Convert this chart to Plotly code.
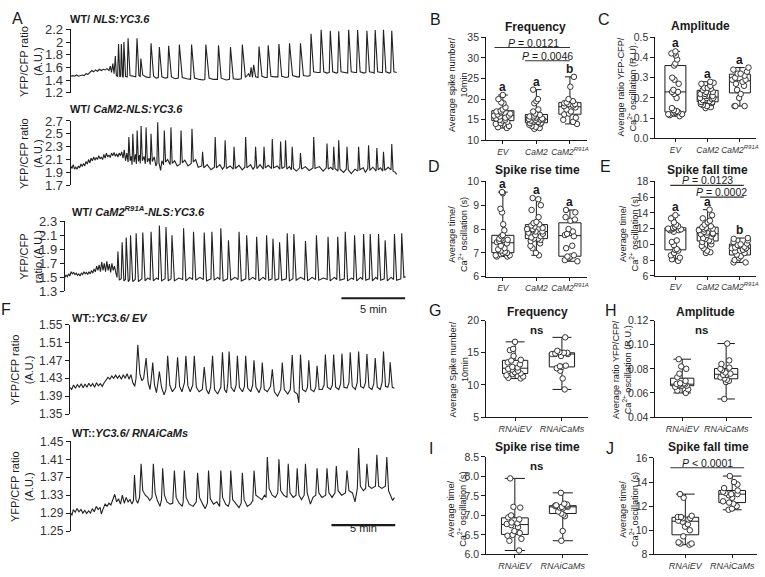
import numpy as np
import plotly.graph_objects as go

W, H = 765, 577
INK = "#1a1a1a"
FONT = "Liberation Sans, Arial, sans-serif"
PX_PER_MIN = 12.8

# ---------------- Ca2+ traces: (time [min], YFP/CFP ratio) ----------------
trace_nls = [
    (0,1.46),(0.15,1.47),(0.3,1.46),(0.45,1.48),(0.6,1.46),(0.75,1.47),(0.9,1.48),(1.05,1.47),(1.2,1.5),(1.35,1.49),
    (1.5,1.52),(1.65,1.55),(1.8,1.53),(1.95,1.56),(2.1,1.54),(2.25,1.57),(2.4,1.55),(2.55,1.57),(2.7,1.56),(2.85,1.58),
    (3.0,1.55),(3.1,1.62),(3.2,1.52),(3.3,1.66),(3.4,1.5),(3.5,1.78),(3.58,1.47),
    (3.68,1.46),(3.75,1.97),(3.85,1.45),(3.92,1.46),(3.97,1.97),(4.07,1.45),(4.12,1.45),(4.17,2.0),(4.3,1.46),
    (4.43,1.45),(4.5,2.06),(4.65,1.47),(4.85,1.46),(5.1,1.45),(5.2,2.06),(5.35,1.47),
    (5.45,1.46),(5.5,1.74),(5.65,1.48),(5.9,1.45),(6.1,1.44),(6.22,1.44),(6.3,1.98),(6.5,1.46),(6.7,1.43),
    (6.87,1.44),(6.95,1.92),(7.15,1.45),(7.4,1.43),(7.6,1.44),(7.68,1.94),(7.9,1.45),(8.2,1.42),
    (8.44,1.43),(8.52,1.96),(8.75,1.44),(9.1,1.42),(9.4,1.41),(9.48,1.96),(9.7,1.43),(10.1,1.41),(10.4,1.40),
    (10.52,1.41),(10.6,1.96),(10.85,1.43),(11.2,1.41),(11.51,1.41),(11.59,1.95),(11.8,1.43),(12.2,1.40),
    (12.45,1.41),(12.53,1.92),(12.75,1.42),(13.1,1.41),
    (13.38,1.42),(13.46,1.96),(13.7,1.44),(13.95,1.5),(14.05,1.45),(14.15,1.6),(14.25,1.44),(14.35,1.64),(14.5,1.45),
    (14.69,1.44),(14.77,1.93),(15.0,1.46),(15.25,1.44),(15.41,1.44),(15.49,1.95),(15.7,1.46),(16.0,1.45),
    (16.25,1.45),(16.33,1.97),(16.55,1.46),(16.9,1.44),(17.08,1.45),(17.16,1.98),(17.4,1.47),(17.75,1.45),
    (17.94,1.45),(18.02,1.98),(18.25,1.47),(18.6,1.46),(18.77,1.47),(18.85,2.13),(19.05,1.53),(19.35,1.52),
    (19.56,1.52),(19.64,2.2),(19.85,1.53),(20.1,1.51),(20.28,1.52),(20.36,2.18),(20.55,1.53),(20.85,1.51),
    (20.94,1.52),(21.02,2.17),(21.2,1.53),(21.5,1.52),(21.72,1.51),(21.8,2.2),(22.0,1.53),(22.3,1.52),
    (22.42,1.52),(22.5,2.19),(22.7,1.53),(23.0,1.51),(23.15,1.52),(23.23,2.18),(23.43,1.53),(23.7,1.52),
    (23.8,1.51),(23.88,2.19),(24.07,1.53),(24.35,1.52),(24.45,1.52),(24.53,2.2),(24.72,1.53),(25.0,1.51),
    (25.1,1.52),(25.18,2.18),(25.35,1.53),(25.57,1.52),
]

trace_cam2 = [
    (0,2.0),(0.1,1.96),(0.2,2.02),(0.3,1.95),(0.4,1.98),(0.5,1.95),(0.6,2.0),(0.7,1.97),(0.8,2.03),(0.9,1.99),
    (1.0,2.04),(1.1,2.0),(1.2,2.07),(1.3,2.03),(1.4,2.1),(1.5,2.05),(1.6,2.12),(1.7,2.08),(1.8,2.14),(1.9,2.09),
    (2.0,2.13),(2.1,2.1),(2.2,2.16),(2.3,2.11),(2.4,2.14),(2.5,2.1),(2.6,2.18),(2.7,2.12),(2.8,2.2),(2.9,2.14),
    (3.0,2.17),(3.1,2.13),(3.2,2.2),(3.3,2.16),(3.4,2.21),(3.5,2.15),(3.6,2.19),(3.7,2.14),(3.8,2.2),(3.9,2.16),
    (4.0,2.22),(4.1,2.12),(4.2,2.25),(4.3,2.08),(4.4,2.2),
    (4.5,2.06),(4.56,2.45),(4.66,2.08),(4.75,2.15),(4.81,2.02),(4.87,2.5),(4.97,2.06),(5.08,2.18),(5.15,2.03),
    (5.21,2.55),(5.31,2.07),(5.4,2.17),(5.46,2.04),(5.52,2.62),(5.62,2.08),(5.75,2.15),(5.85,2.03),(5.91,2.6),
    (6.01,2.06),(6.15,2.12),(6.24,2.02),(6.3,2.5),(6.4,2.07),(6.55,2.14),(6.68,2.0),(6.76,2.04),(6.82,2.68),
    (6.92,2.05),(7.05,1.93),(7.15,2.08),(7.28,2.02),(7.34,2.55),(7.44,2.06),(7.6,2.1),(7.8,2.02),(7.86,2.6),
    (7.96,2.04),(8.15,2.08),(8.35,2.0),(8.59,2.03),(8.65,2.55),(8.75,2.05),(8.95,2.09),(9.2,2.0),(9.45,2.04),
    (9.51,2.58),(9.61,2.06),(9.8,2.1),(10.0,1.98),(10.28,2.0),(10.34,2.22),(10.44,1.97),(10.7,2.02),(11.0,1.94),
    (11.27,1.98),(11.33,2.45),(11.43,1.97),(11.7,2.02),(11.9,1.95),(12.05,1.99),(12.11,2.4),(12.21,1.96),
    (12.5,2.0),(12.75,1.95),(12.81,2.3),(12.91,1.96),(13.2,2.01),(13.45,1.94),(13.66,1.98),(13.72,2.45),
    (13.82,1.97),(14.1,2.02),(14.3,1.95),(14.44,1.99),(14.5,2.3),(14.6,1.96),(14.85,2.02),(15.1,1.95),
    (15.16,2.3),(15.26,1.97),(15.5,2.01),(15.75,1.96),(15.81,2.42),(15.91,1.97),(16.2,2.0),(16.4,1.95),
    (16.46,2.38),(16.56,1.96),(16.79,1.99),(16.85,2.4),(16.95,1.95),(17.15,1.99),(17.31,1.94),(17.37,2.3),
    (17.47,1.96),(17.7,1.92),(17.96,1.97),(18.02,2.2),(18.12,1.95),(18.4,1.99),(18.7,1.93),(19.0,1.97),
    (19.06,2.45),(19.16,1.96),(19.5,1.99),(19.8,1.92),(20.04,1.97),(20.1,2.35),(20.2,1.95),(20.4,1.98),
    (20.57,1.94),(20.63,2.3),(20.73,1.96),(20.96,1.92),(21.02,2.4),(21.12,1.95),(21.4,1.9),(21.61,1.95),
    (21.67,2.3),(21.77,1.94),(22.0,1.88),(22.3,1.95),(22.52,1.92),(22.58,2.3),(22.68,1.94),(22.95,1.97),
    (23.1,1.9),(23.3,1.96),(23.36,2.32),(23.46,1.93),(23.7,1.98),(23.95,1.92),(24.01,2.28),(24.11,1.94),
    (24.3,1.97),(24.47,1.92),(24.53,2.22),(24.63,1.93),(24.9,1.98),(25.12,1.94),(25.18,2.34),(25.28,1.92),
    (25.45,1.9),(25.57,1.87),
]

trace_r91a = [
    (0,1.5),(0.1,1.53),(0.2,1.51),(0.3,1.55),(0.4,1.52),(0.5,1.58),(0.6,1.55),(0.7,1.57),(0.8,1.54),(0.9,1.56),
    (1.0,1.53),(1.1,1.55),(1.2,1.52),(1.3,1.56),(1.4,1.54),(1.5,1.58),(1.6,1.55),(1.7,1.57),(1.8,1.54),(1.9,1.58),
    (2.0,1.55),(2.1,1.6),(2.2,1.56),(2.3,1.62),(2.4,1.58),(2.5,1.66),(2.6,1.6),(2.7,1.68),(2.8,1.58),(2.9,1.72),
    (3.0,1.6),(3.1,1.7),(3.2,1.58),(3.3,1.73),(3.4,1.6),(3.5,1.69),(3.6,1.57),(3.7,1.7),(3.8,1.6),(3.9,1.66),
    (4.0,1.57),(4.1,1.5),
    (4.17,1.87),(4.28,1.46),(4.43,1.48),(4.5,2.0),(4.64,1.45),(4.76,1.47),(4.82,2.07),(4.98,1.44),(5.1,1.47),
    (5.16,2.1),(5.33,1.44),(5.53,1.47),(5.6,2.13),(5.78,1.44),(6.05,1.48),(6.12,2.14),(6.3,1.45),(6.5,1.49),
    (6.7,1.47),(6.77,2.15),(6.95,1.45),(7.2,1.49),(7.35,1.47),(7.42,2.24),(7.6,1.45),(7.87,1.48),(7.94,2.22),
    (8.12,1.45),(8.34,1.48),(8.41,2.1),(8.6,1.45),(8.95,1.49),(9.25,1.47),(9.32,2.2),(9.5,1.45),(9.8,1.5),
    (10.03,1.47),(10.1,2.15),(10.28,1.46),(10.6,1.5),(10.87,1.47),(10.94,2.14),(11.12,1.45),(11.47,1.48),
    (11.54,2.15),(11.72,1.46),(12.0,1.5),(12.17,1.47),(12.24,2.2),(12.42,1.45),(12.77,1.48),(12.84,2.03),
    (13.02,1.46),(13.35,1.5),(13.6,1.47),(13.67,2.15),(13.85,1.45),(14.2,1.48),(14.27,2.1),(14.45,1.46),
    (14.75,1.5),(14.98,1.47),(15.05,2.08),(15.23,1.45),(15.55,1.5),(15.76,1.47),(15.83,2.1),(16.0,1.46),
    (16.26,1.48),(16.33,2.05),(16.5,1.46),(16.78,1.48),(16.85,2.0),(17.02,1.46),(17.38,1.48),(17.45,2.13),
    (17.62,1.45),(17.9,1.48),(17.97,2.12),(18.15,1.46),(18.5,1.5),(18.81,1.47),(18.88,2.02),(19.05,1.45),
    (19.4,1.5),(19.67,1.47),(19.74,2.1),(19.92,1.46),(20.3,1.49),(20.58,1.47),(20.65,2.08),(20.82,1.45),
    (21.15,1.5),(21.34,1.47),(21.41,2.08),(21.58,1.46),(21.93,1.48),(22.0,2.15),(22.18,1.45),(22.5,1.49),
    (22.66,1.47),(22.73,2.1),(22.9,1.45),(23.2,1.5),(23.37,1.47),(23.44,2.12),(23.61,1.46),(23.89,1.48),
    (23.96,2.12),(24.13,1.45),(24.4,1.5),(24.54,1.47),(24.61,2.12),(24.78,1.46),(25.06,1.48),(25.13,2.03),
    (25.3,1.45),(25.6,1.5),(25.79,1.47),(25.86,2.12),(26.03,1.46),(26.36,1.48),(26.43,2.13),(26.6,1.5),(26.74,1.51),
]

trace_rnai_ev = [
    (0,1.41),(0.15,1.405),(0.3,1.415),(0.45,1.408),(0.6,1.416),(0.75,1.41),(0.9,1.418),(1.05,1.409),(1.2,1.417),
    (1.35,1.41),(1.5,1.419),(1.65,1.412),(1.8,1.418),(1.95,1.41),(2.1,1.42),(2.25,1.413),(2.4,1.418),(2.55,1.412),
    (2.7,1.42),(2.85,1.425),(3.0,1.432),(3.15,1.428),(3.3,1.435),(3.45,1.43),(3.6,1.437),(3.75,1.43),(3.9,1.436),
    (4.05,1.428),(4.2,1.438),(4.35,1.43),(4.5,1.44),(4.65,1.428),(4.8,1.438),(4.95,1.42),(5.1,1.412),(5.2,1.43),
    (5.34,1.505),(5.5,1.44),(5.65,1.425),(5.8,1.43),(5.99,1.475),(6.15,1.42),(6.3,1.405),(6.4,1.43),(6.51,1.465),
    (6.65,1.415),(6.8,1.398),(6.92,1.42),(7.03,1.445),(7.2,1.41),(7.4,1.393),(7.55,1.405),(7.68,1.48),(7.85,1.415),
    (8.05,1.40),(8.3,1.41),(8.46,1.477),(8.62,1.412),(8.8,1.40),(9.0,1.42),(9.11,1.48),(9.27,1.413),(9.45,1.40),
    (9.65,1.415),(9.77,1.48),(9.93,1.41),(10.15,1.40),(10.4,1.405),(10.55,1.455),(10.72,1.405),(10.9,1.395),
    (11.05,1.41),(11.2,1.48),(11.36,1.405),(11.6,1.395),(11.85,1.41),(11.98,1.488),(12.14,1.405),(12.3,1.398),
    (12.4,1.42),(12.5,1.49),(12.66,1.41),(12.9,1.40),(13.05,1.415),(13.15,1.48),(13.31,1.41),(13.55,1.40),
    (13.7,1.412),(13.8,1.48),(13.96,1.408),(14.2,1.40),(14.35,1.415),(14.45,1.47),(14.61,1.41),(14.85,1.398),
    (15.0,1.41),(15.1,1.465),(15.26,1.405),(15.5,1.40),(15.75,1.412),(15.89,1.45),(16.05,1.40),(16.3,1.39),
    (16.55,1.405),(16.67,1.465),(16.83,1.405),(17.1,1.395),(17.3,1.405),(17.45,1.482),(17.61,1.40),(17.85,1.395),
    (17.97,1.375),(18.0,1.40),(18.1,1.483),(18.26,1.405),(18.5,1.40),(18.65,1.41),(18.75,1.47),(18.91,1.405),
    (19.15,1.40),(19.3,1.41),(19.4,1.458),(19.56,1.405),(19.8,1.405),(19.95,1.415),(20.05,1.483),(20.21,1.41),
    (20.45,1.405),(20.6,1.415),(20.7,1.483),(20.86,1.41),(21.1,1.405),(21.25,1.418),(21.35,1.485),(21.51,1.41),
    (21.75,1.408),(21.9,1.42),(22.0,1.488),(22.16,1.412),(22.4,1.405),(22.55,1.42),(22.66,1.49),(22.82,1.412),
    (23.05,1.408),(23.2,1.42),(23.31,1.484),(23.47,1.41),(23.7,1.405),(23.85,1.418),(23.96,1.475),(24.12,1.41),
    (24.35,1.405),(24.5,1.42),(24.61,1.49),(24.77,1.412),(24.95,1.41),(25.05,1.42),(25.13,1.466),(25.3,1.41),
    (25.47,1.408),
]

trace_rnai_cams = [
    (0,1.29),(0.1,1.285),(0.2,1.298),(0.35,1.292),(0.5,1.30),(0.65,1.293),(0.8,1.298),(0.95,1.29),(1.1,1.296),
    (1.25,1.289),(1.4,1.295),(1.55,1.29),(1.7,1.30),(1.85,1.293),(2.0,1.305),(2.15,1.298),(2.3,1.303),(2.4,1.288),
    (2.55,1.30),(2.7,1.31),(2.85,1.305),(3.0,1.312),(3.15,1.308),(3.3,1.318),(3.45,1.332),(3.6,1.315),(3.75,1.322),
    (3.9,1.31),(4.05,1.33),(4.2,1.312),(4.35,1.325),(4.5,1.315),(4.65,1.32),(4.8,1.31),(4.92,1.318),
    (5.0,1.375),(5.12,1.32),(5.25,1.312),(5.4,1.325),(5.52,1.40),(5.65,1.34),(5.85,1.33),(6.05,1.325),(6.2,1.318),
    (6.38,1.325),(6.48,1.40),(6.62,1.335),(6.8,1.318),(7.0,1.305),(7.12,1.32),(7.21,1.39),(7.35,1.33),(7.55,1.315),
    (7.8,1.31),(8.0,1.312),(8.13,1.385),(8.27,1.325),(8.5,1.312),(8.75,1.305),(8.82,1.315),(8.91,1.385),(9.05,1.325),
    (9.3,1.31),(9.6,1.305),(9.85,1.315),(9.95,1.38),(10.1,1.325),(10.35,1.31),(10.55,1.30),(10.72,1.312),
    (10.81,1.385),(10.95,1.322),(11.2,1.31),(11.45,1.315),(11.68,1.305),(11.77,1.385),(11.91,1.325),(12.15,1.31),
    (12.35,1.305),(12.47,1.315),(12.55,1.385),(12.7,1.32),(12.95,1.31),(13.2,1.302),(13.37,1.312),(13.46,1.38),
    (13.6,1.32),(13.85,1.305),(14.1,1.31),(14.28,1.318),(14.38,1.385),(14.52,1.33),(14.75,1.325),(15.0,1.32),
    (15.2,1.33),(15.32,1.325),(15.42,1.415),(15.56,1.345),(15.8,1.33),(16.05,1.325),(16.24,1.335),(16.33,1.41),
    (16.47,1.34),(16.7,1.33),(16.96,1.325),(17.06,1.40),(17.2,1.335),(17.45,1.325),(17.67,1.33),(17.76,1.39),
    (17.9,1.33),(18.1,1.32),(18.31,1.33),(18.41,1.40),(18.55,1.335),(18.8,1.31),(19.0,1.325),(19.22,1.33),
    (19.32,1.39),(19.46,1.335),(19.7,1.325),(20.0,1.33),(20.1,1.39),(20.25,1.335),(20.5,1.325),(20.73,1.335),
    (20.83,1.395),(20.97,1.34),(21.25,1.33),(21.55,1.335),(21.67,1.385),(21.82,1.34),(22.1,1.335),(22.3,1.315),
    (22.48,1.345),(22.58,1.435),(22.72,1.35),(22.95,1.34),(23.13,1.345),(23.23,1.40),(23.37,1.35),(23.6,1.345),
    (23.9,1.35),(24.01,1.42),(24.15,1.35),(24.4,1.345),(24.68,1.35),(24.79,1.415),(24.93,1.34),(25.1,1.33),
    (25.25,1.318),(25.39,1.325),
]

# ---------------- box-plot data ----------------
cats_cam = ["EV", "CaM2", "CaM2R91A"]
cat_text_cam = ["<i>EV</i>", "<i>CaM2</i>", "<i>CaM2<sup>R91A</sup></i>"]
cats_rnai = ["RNAiEV", "RNAiCaMs"]
cat_text_rnai = ["<i>RNAiEV</i>", "<i>RNAiCaMs</i>"]

freq_ev = [21, 20, 19.2, 19, 18, 17.5, 17.2, 17, 16.8, 16.5, 16.3, 16.0, 16.0, 15.8, 15.5, 15.3, 15.0, 15.0,
           14.8, 14.5, 14.2, 14.0, 13.5, 13.2, 13.0]
freq_cam2 = [22.3, 20.0, 19.5, 19.0, 17.5, 17.0, 16.5, 16.2, 16.0, 15.8, 15.6, 15.5, 15.3, 15.2, 15.1, 15.0, 15.0,
             14.8, 14.6, 14.5, 14.3, 14.2, 14.0, 13.8, 13.5, 13.3, 13.0, 12.8]
freq_r91a = [25.4, 23.0, 20.0, 19.5, 19.2, 19.0, 18.8, 18.5, 18.3, 18.0, 17.5, 17.0, 16.5, 16.3, 15.5, 15.0, 14.5, 14.0]

amp_ev = [0.43, 0.42, 0.42, 0.41, 0.39, 0.37, 0.36, 0.30, 0.29, 0.27, 0.24, 0.23, 0.23, 0.22, 0.20, 0.15, 0.14,
          0.135, 0.13, 0.13, 0.125, 0.12, 0.12, 0.115, 0.11]
amp_cam2 = [0.28, 0.275, 0.27, 0.26, 0.25, 0.25, 0.245, 0.24, 0.23, 0.23, 0.22, 0.22, 0.21, 0.21, 0.21, 0.20, 0.20,
            0.20, 0.195, 0.19, 0.19, 0.185, 0.18, 0.18, 0.175, 0.17, 0.165, 0.16, 0.155, 0.15]
amp_r91a = [0.35, 0.34, 0.33, 0.32, 0.32, 0.31, 0.30, 0.29, 0.29, 0.28, 0.27, 0.26, 0.24, 0.22, 0.20, 0.16, 0.16, 0.16]

rise_ev = [9.55, 9.5, 8.85, 8.7, 8.2, 7.95, 7.75, 7.7, 7.6, 7.6, 7.55, 7.5, 7.45, 7.4, 7.3, 7.2, 7.15, 7.1, 7.05,
           7.0, 7.0, 6.95, 6.9, 6.9, 6.85, 6.85]
rise_cam2 = [9.3, 9.25, 9.0, 8.8, 8.5, 8.3, 8.25, 8.2, 8.15, 8.1, 8.05, 8.0, 8.0, 7.95, 7.9, 7.9, 7.85, 7.8, 7.75,
             7.7, 7.65, 7.6, 7.6, 7.55, 7.5, 7.4, 7.3, 7.2, 7.0, 6.9]
rise_r91a = [8.8, 8.7, 8.5, 8.4, 8.35, 8.0, 7.9, 7.8, 7.75, 7.7, 7.3, 7.2, 6.9, 6.85, 6.85, 6.8, 6.7, 6.65]

fall_ev = [13.7, 13.3, 12.8, 12.5, 12.3, 12.2, 12.1, 12.0, 12.0, 11.9, 11.9, 11.8, 11.8, 11.6, 10.5, 10.3, 9.9,
           9.4, 9.3, 9.2, 8.9, 8.6, 8.3, 8.1, 7.9]
fall_cam2 = [14.4, 13.7, 13.3, 13.0, 12.8, 12.5, 12.3, 12.2, 12.1, 12.0, 11.9, 11.8, 11.6, 11.5, 11.4, 11.3, 11.3,
             11.2, 11.0, 10.8, 10.7, 10.5, 10.4, 10.3, 10.0, 9.8, 9.5, 9.2, 9.0, 8.9]
fall_r91a = [10.8, 10.7, 10.5, 10.3, 10.1, 10.0, 9.9, 9.7, 9.6, 9.5, 9.5, 9.3, 9.1, 8.9, 8.7, 8.5, 8.3, 8.0, 7.7, 7.7]

rnai_freq_ev = [16.7, 15.6, 15.4, 14.5, 13.9, 13.8, 13.5, 13.2, 12.8, 12.7, 12.5, 12.4, 12.2, 12.0, 11.8, 11.7,
                11.5, 11.3, 11.1, 11.0]
rnai_freq_cams = [17.4, 15.3, 15.1, 15.0, 15.0, 14.9, 14.8, 14.8, 14.8, 14.5, 13.0, 12.9, 12.8, 12.6, 12.2, 11.0, 9.3]

rnai_amp_ev = [0.088, 0.082, 0.080, 0.076, 0.073, 0.070, 0.068, 0.068, 0.0675, 0.067, 0.067, 0.066, 0.066, 0.066,
               0.065, 0.063, 0.062, 0.060]
rnai_amp_cams = [0.101, 0.087, 0.084, 0.081, 0.080, 0.079, 0.077, 0.076, 0.075, 0.075, 0.073, 0.072, 0.071, 0.070,
                 0.069, 0.055]

rnai_rise_ev = [7.95, 7.22, 7.2, 7.0, 6.95, 6.9, 6.82, 6.8, 6.78, 6.75, 6.7, 6.6, 6.55, 6.5, 6.48, 6.4, 6.35, 6.1]
rnai_rise_cams = [7.58, 7.3, 7.28, 7.26, 7.25, 7.25, 7.24, 7.22, 7.22, 7.2, 7.18, 7.1, 7.05, 7.02, 6.98, 6.6, 6.35]

rnai_fall_ev = [13.0, 12.7, 11.2, 11.1, 11.1, 11.0, 11.0, 10.9, 10.8, 10.7, 10.5, 10.3, 10.0, 9.5, 9.0, 8.9, 8.9, 8.8]
rnai_fall_cams = [14.5, 14.0, 13.8, 13.5, 13.3, 13.2, 13.1, 13.0, 13.0, 12.9, 12.7, 12.4, 12.3, 12.2, 12.0, 11.8, 11.7]

letters_b = ["a", "a", "b"]
letters_c = ["a", "a", "a"]
letters_d = ["a", "a", "a"]
letters_e = ["a", "a", "b"]
p_b = ["<i>P</i> = 0.0121", "<i>P</i> = 0.0046"]
p_e = ["<i>P</i> = 0.0123", "<i>P</i> = 0.0002"]
p_j = ["<i>P</i> < 0.0001"]
scale_bar_min = 5

# ---------------- figure ----------------
fig = go.Figure()
layout = dict(width=W, height=H, margin=dict(l=0, r=0, t=0, b=0), paper_bgcolor="white",
              plot_bgcolor="white", showlegend=False, boxmode="overlay",
              font=dict(family=FONT, color=INK))
annotations, shapes = [], []


def ids(i):
    s = "" if i == 1 else str(i)
    return "x" + s, "y" + s, "xaxis" + s, "yaxis" + s


def px(x):
    return x / W


def py(y):
    return 1 - y / H


def text(x, y, s, size=11, xanchor="center", angle=0, yanchor="middle"):
    annotations.append(dict(x=px(x), y=py(y), xref="paper", yref="paper", text=s, showarrow=False,
                            font=dict(size=size, family=FONT, color=INK), xanchor=xanchor,
                            yanchor=yanchor, textangle=angle))


def yaxis_style(i, top, bot, lo, hi, dtick, size, fmt=None):
    xa, ya, xk, yk = ids(i)
    span = hi - lo
    d = dict(domain=[py(bot), py(top)], range=[lo - span * 1e-4, hi + span * 1e-4], anchor=xa,
             showline=True, linecolor=INK, linewidth=1, ticks="outside", ticklen=4, tickwidth=1,
             tickcolor=INK, tick0=lo, dtick=dtick, showgrid=False, zeroline=False,
             tickfont=dict(size=size, family=FONT, color="#333"))
    if fmt:
        d["tickformat"] = fmt
    layout[yk] = d


# ---- trace panels ----
trace_panels = [
    # idx, data, left, right, top, bottom, lo, hi, dtick, tick size, title, title x/y, ytitle, ytitle x
    (1, trace_nls, 71, 400, 23, 88, 1.2, 2.2, 0.2, 13, "<b>WT/ <i>NLS:YC3.6</i></b>", 68, 12,
     "YFP/CFP ratio<br>(A.U.)", 31),
    (2, trace_cam2, 71, 400, 117, 183, 1.7, 2.7, 0.2, 13, "<b>WT/ <i>CaM2-NLS:YC3.6</i></b>", 68, 105,
     "YFP/CFP ratio<br>(A.U.)", 31),
    (3, trace_r91a, 65, 409, 220, 292, 1.3, 2.3, 0.2, 13,
     "<b>WT/ <i>CaM2<sup>R91A</sup>-NLS:YC3.6</i></b>", 70, 209, "YFP/CFP<br>ratio (A.U.)", 31),
    (4, trace_rnai_ev, 70, 398, 326, 418, 1.35, 1.55, 0.04, 12, "<b>WT::<i>YC3.6/ EV</i></b>", 70, 319,
     "YFP/CFP ratio<br>(A.U.)", 22),
    (5, trace_rnai_cams, 71, 398, 446, 538, 1.25, 1.45, 0.04, 12, "<b>WT::<i>YC3.6/ RNAiCaMs</i></b>", 70, 437,
     "YFP/CFP ratio<br>(A.U.)", 22),
]
for (i, data, left, right, top, bot, lo, hi, dt, ts, title, tx, tyy, ytitle, ytx) in trace_panels:
    xa, ya, xk, yk = ids(i)
    t, v = zip(*data)
    fig.add_trace(go.Scatter(x=list(t), y=list(v), mode="lines", xaxis=xa, yaxis=ya, cliponaxis=False,
                             line=dict(color="#222", width=1.1), hoverinfo="skip"))
    layout[xk] = dict(domain=[px(left), px(right)], range=[0, (right - left) / PX_PER_MIN], visible=False,
                      anchor=ya)
    yaxis_style(i, top, bot, lo, hi, dt, ts, ".2f" if dt < 0.1 else None)
    text(tx, tyy, title, size=11, xanchor="left")
    text(ytx, (top + bot) / 2, ytitle, size=11, angle=-90)

# scale bars (5 min)
for ax_i, ybar, ytxt, end_min in [(3, 299, 310, 26.7), (5, 532, 543, 25.45)]:
    xa, ya, _, _ = ids(ax_i)
    shapes.append(dict(type="line", xref=xa, yref="paper", x0=end_min - scale_bar_min, x1=end_min,
                       y0=py(ybar), y1=py(ybar), line=dict(color=INK, width=2.2)))
    annotations.append(dict(x=end_min - scale_bar_min / 2, y=py(ytxt), xref=xa, yref="paper",
                            text="%d min" % scale_bar_min, showarrow=False,
                            font=dict(size=11, family=FONT, color=INK)))

# ---- box panels ----
box_panels = [
    # idx, cats, ticktext, groups, left, right, xrange, top, bottom, lo, hi, dtick, fmt, width, whisker,
    # title, title x, title y, ytitle, ytitle x, ytitle y, xtick size
    (6, cats_cam, cat_text_cam, [freq_ev, freq_cam2, freq_r91a], 488, 589, [-0.5, 2.5], 31, 137, 10, 35, 5, None,
     0.66, 0.45, "Frequency", 538, 21, "Average spike number/<br>10min", 460, 80, 8.5),
    (7, cats_cam, cat_text_cam, [amp_ev, amp_cam2, amp_r91a], 658, 759, [-0.62, 2.5], 31, 135, 0, 0.5, 0.1, ".1f",
     0.65, 0.45, "Amplitude", 703, 20, "Average ratio YFP-CFP/<br>Ca<sup>2+</sup> oscillation (R.U).", 629, 82, 8.5),
    (8, cats_cam, cat_text_cam, [rise_ev, rise_cam2, rise_r91a], 488, 589, [-0.5, 2.5], 179, 277, 6, 10, 1, None,
     0.66, 0.45, "Spike rise time", 540, 167, "Average time/<br>Ca<sup>2+</sup> oscillation (s)", 460, 234, 8.5),
    (9, cats_cam, cat_text_cam, [fall_ev, fall_cam2, fall_r91a], 658, 759, [-0.62, 2.5], 179, 276, 6, 18, 2, None,
     0.65, 0.45, "Spike fall time", 710, 167, "Average time/<br>Ca<sup>2+</sup> oscillation (s)", 631, 233, 8.5),
    (10, cats_rnai, cat_text_rnai, [rnai_freq_ev, rnai_freq_cams], 488, 590, [-0.62, 1.55], 322, 421, 5, 20, 5,
     None, 0.54, 0.75, "Frequency", 540, 313, "Average Spike number/<br>10min", 461, 372, 9),
    (11, cats_rnai, cat_text_rnai, [rnai_amp_ev, rnai_amp_cams], 658, 755, [-0.61, 1.59], 322, 421, 0.04, 0.12,
     0.02, ".2f", 0.53, 0.75, "Amplitude", 708, 313,
     "Average ratio YFP/CFP/<br>Ca<sup>2+</sup> oscillation (R.U.)", 625, 372, 9),
    (12, cats_rnai, cat_text_rnai, [rnai_rise_ev, rnai_rise_cams], 488, 590, [-0.6, 1.52], 462, 562, 6.0, 8.5,
     0.5, ".1f", 0.56, 0.75, "Spike rise time", 540, 452, "Average time/<br>Ca<sup>2+</sup> oscillation (s)", 458,
     516, 9),
    (13, cats_rnai, cat_text_rnai, [rnai_fall_ev, rnai_fall_cams], 657, 760, [-0.66, 1.53], 463, 562, 8, 16, 2,
     None, 0.57, 0.7, "Spike fall time", 711, 452, "Average time/<br>Ca<sup>2+</sup> oscillation (s)", 631, 516, 9),
]
for (i, cats, ctext, groups, left, right, xr, top, bot, lo, hi, dt, fmt, bw, ww, title, tx, tyy, ytitle,
     ytx, yty, xts) in box_panels:
    xa, ya, xk, yk = ids(i)
    q1 = [float(np.percentile(g, 25)) for g in groups]
    med = [float(np.percentile(g, 50)) for g in groups]
    q3 = [float(np.percentile(g, 75)) for g in groups]
    fig.add_trace(go.Box(x=cats, q1=q1, median=med, q3=q3, lowerfence=[min(g) for g in groups],
                         upperfence=[max(g) for g in groups], xaxis=xa, yaxis=ya, width=bw,
                         whiskerwidth=ww, fillcolor="white", line=dict(color=INK, width=1),
                         boxpoints=False, hoverinfo="skip"))
    xs, ys = [], []
    for c, g in zip(cats, groups):
        xs += [c] * len(g)
        ys += list(g)
    fig.add_trace(go.Box(x=xs, y=ys, xaxis=xa, yaxis=ya, width=bw, boxpoints="all", jitter=0.85,
                         pointpos=0, fillcolor="rgba(0,0,0,0)", line=dict(color="rgba(0,0,0,0)", width=0),
                         whiskerwidth=0,
                         marker=dict(symbol="circle", size=5.5, color="white",
                                     line=dict(color="#333", width=1)), hoverinfo="skip"))
    layout[xk] = dict(domain=[px(left), px(right)], range=xr, anchor=ya, type="category",
                      categoryorder="array", categoryarray=cats, tickvals=cats, ticktext=ctext,
                      tickangle=0, showline=True, linecolor=INK, linewidth=1, ticks="outside", ticklen=3,
                      tickcolor=INK, showgrid=False, zeroline=False,
                      tickfont=dict(size=xts, family=FONT, color="#333"))
    yaxis_style(i, top, bot, lo, hi, dt, 10.5, fmt)
    text(tx, tyy, "<b>%s</b>" % title, size=12)
    text(ytx, yty, ytitle, size=9.2, angle=-90)

# significance letters above the whiskers
for i, letters, groups in [(6, letters_b, [freq_ev, freq_cam2, freq_r91a]),
                           (7, letters_c, [amp_ev, amp_cam2, amp_r91a]),
                           (8, letters_d, [rise_ev, rise_cam2, rise_r91a]),
                           (9, letters_e, [fall_ev, fall_cam2, fall_r91a])]:
    xa, ya, _, _ = ids(i)
    for c, l, g in zip(cats_cam, letters, groups):
        annotations.append(dict(x=c, y=max(g), xref=xa, yref=ya, text="<b>%s</b>" % l, showarrow=False,
                                yanchor="bottom", yshift=-1, font=dict(size=12, family=FONT, color=INK)))

# "ns" labels
for i, yv in [(10, 18.6), (11, 0.112), (12, 8.27)]:
    xa, ya, _, _ = ids(i)
    annotations.append(dict(x=0.45, y=yv, xref=xa, yref=ya, text="<b>ns</b>", showarrow=False,
                            font=dict(size=11.5, family=FONT, color=INK)))

# P-value brackets
brackets = [
    (6, -0.25, 2.0, 32.5, 0.90, p_b[0]),
    (6, 0.66, 2.0, 29.3, 1.32, p_b[1]),
    (9, -0.16, 2.12, 17.5, 1.01, p_e[0]),
    (9, 0.765, 2.12, 16.0, 1.44, p_e[1]),
    (13, -0.32, 1.255, 15.19, 0.47, p_j[0]),
]
for i, x0, x1, yv, xt, label in brackets:
    xa, ya, _, _ = ids(i)
    shapes.append(dict(type="line", xref=xa, yref=ya, x0=x0, x1=x1, y0=yv, y1=yv,
                       line=dict(color="#333", width=1.2)))
    annotations.append(dict(x=xt, y=yv, xref=xa, yref=ya, text=label, showarrow=False, yanchor="bottom",
                            yshift=-3, font=dict(size=10.5, family=FONT, color=INK)))

# panel letters
for s, x, y in [("A", 18, 12), ("B", 437, 13), ("C", 606, 13), ("D", 436, 164), ("E", 608, 164),
                ("F", 6, 311), ("G", 437, 312), ("H", 613, 312), ("I", 433, 453), ("J", 612, 453)]:
    text(x, y, s, size=16)

layout["annotations"] = annotations
layout["shapes"] = shapes
fig.update_layout(**layout)
fig.write_html("out.html", config={"displayModeBar": False},
               post_script="document.body.style.margin='0';document.body.style.overflow='hidden';")
